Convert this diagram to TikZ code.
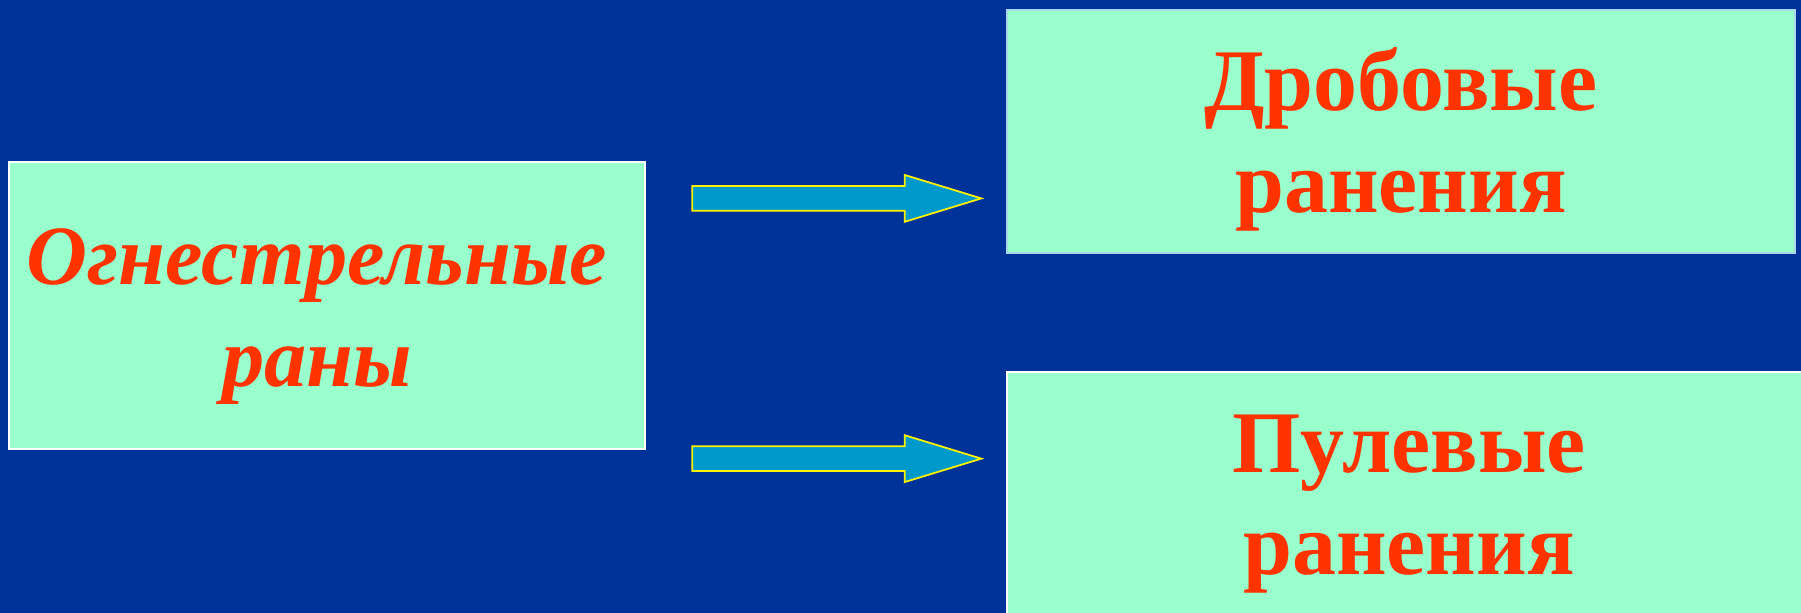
\documentclass[tikz,border=0pt]{standalone}
\usepackage{fontspec}
\setmainfont{Liberation Serif}
\usepackage{xcolor}
\usepackage{tikz}
\usetikzlibrary{positioning,shapes.arrows}

\definecolor{slideblue}{HTML}{003399}
\definecolor{mint}{HTML}{99FFCC}
\definecolor{woundred}{HTML}{FF3300}
\definecolor{arrowblue}{HTML}{0099CC}
\definecolor{paleedge}{HTML}{A8D8E8}

\begin{document}
\begin{tikzpicture}[x=0.01cm, y=-0.01cm,
    greenbox/.style={rectangle, fill=mint, line width=0.6pt, inner sep=0pt},
    boxtext/.style={text=woundred, align=center, font=\fontsize{25}{29}\selectfont\bfseries},
    fatarrow/.style={single arrow, fill=arrowblue, draw=yellow, line width=0.5pt,
        inner xsep=0pt, inner ysep=0.115cm, minimum height=2.89cm,
        single arrow head extend=0.11cm, single arrow tip angle=34}]
    % Background
    \useasboundingbox (0,0) rectangle (1801,613);
    \fill[slideblue] (0,0) rectangle (1801,613);

    % Boxes
    \node[greenbox, draw=white, minimum width=6.36cm, minimum height=2.87cm] (gunshot) at (327,305.5) {};
    \node[greenbox, draw=paleedge, minimum width=7.88cm, minimum height=2.43cm] (pellet) at (1401,131.5) {};
    \node[greenbox, draw=white, minimum width=8.04cm, minimum height=2.51cm] (bullet) at (1409,497.5) {};

    % Labels
    \node[boxtext, font=\fontsize{24}{29}\selectfont\bfseries\itshape] (gunshotlbl) at ([xshift=-0.1cm, yshift=-0.11cm]gunshot.center) {Огнестрельные\\раны};
    \node[boxtext] (pelletlbl) at ([yshift=-0.08cm]pellet.center) {Дробовые\\ранения};
    \node[boxtext] (bulletlbl) at ([yshift=-0.07cm]bullet.center) {Пулевые\\ранения};

    % Arrows
    \node[fatarrow, anchor=tail] (toPellet) at ([xshift=0.45cm, yshift=-0.375cm]gunshot.north east) {};
    \node[fatarrow, anchor=tail] (toBullet) at ([xshift=0.45cm, yshift=-0.085cm]gunshot.south east) {};
\end{tikzpicture}
\end{document}
